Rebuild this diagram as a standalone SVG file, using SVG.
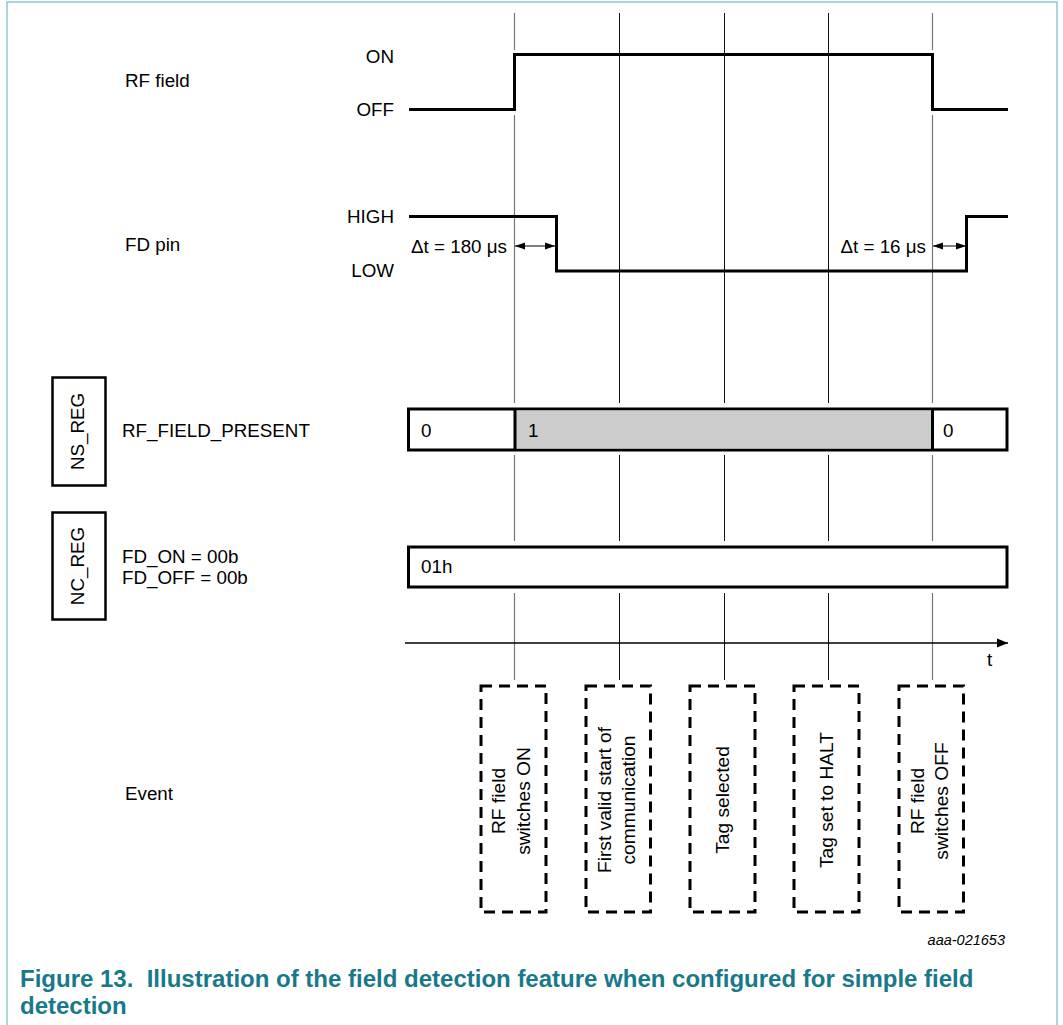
<svg xmlns="http://www.w3.org/2000/svg" width="1063" height="1025" viewBox="0 0 1063 1025">
<style>
.t{font-family:"Liberation Sans",Arial,sans-serif;font-size:18.8px;fill:#000}
.v{font-size:19.2px}
.e{text-anchor:end}
.c{text-anchor:middle}
.sig{fill:none;stroke:#000;stroke-width:3;stroke-linejoin:miter}
.g1{stroke:#777;stroke-width:1.2;fill:none}
.g2{stroke:#111;stroke-width:1;fill:none}
.box{fill:#fff;stroke:#000;stroke-width:2.5}
.ev{fill:#fff;stroke:#000;stroke-width:3;stroke-dasharray:11 7}
.cap{font-family:"Liberation Sans",Arial,sans-serif;font-weight:bold;font-size:24px;fill:#17798a}
</style>
<defs>
<marker id="ah" viewBox="0 0 10 10" refX="10" refY="5" markerWidth="10" markerHeight="10" markerUnits="userSpaceOnUse" orient="auto-start-reverse">
<path d="M0,1.5 L10,5 L0,8.5 z" fill="#000"/>
</marker>
<marker id="ax" viewBox="0 0 10 10" refX="10" refY="5" markerWidth="11" markerHeight="11" markerUnits="userSpaceOnUse" orient="auto">
<path d="M0,1 L10,5 L0,9 z" fill="#000"/>
</marker>
</defs>

<path d="M7,1025 V2 H1057 V1025" fill="none" stroke="#8ec9d3" stroke-width="1.5"/>

<g id="connectors">
<path class="g1" d="M514.5,13 V50 M514.5,115 V403 M514.5,455 V541 M514.5,593 V680"/>
<path class="g2" d="M619.5,13 V403 M619.5,455 V541 M619.5,593 V680"/>
<path class="g2" d="M724.5,13 V403 M724.5,455 V541 M724.5,593 V680"/>
<path class="g2" d="M828.5,13 V403 M828.5,455 V541 M828.5,593 V680"/>
<path class="g1" d="M932.5,13 V50 M932.5,115 V403 M932.5,455 V541 M932.5,593 V680"/>
<line x1="405" y1="643" x2="1008" y2="643" stroke="#000" stroke-width="1.5" marker-end="url(#ax)"/>
<line x1="515" y1="246" x2="555" y2="246" stroke="#000" stroke-width="1.2" marker-start="url(#ah)" marker-end="url(#ah)"/>
<line x1="933" y1="246" x2="966" y2="246" stroke="#000" stroke-width="1.2" marker-start="url(#ah)" marker-end="url(#ah)"/>
</g>

<g id="rf-field">
<text class="t" x="125" y="87">RF field</text>
<text class="t e" x="394" y="63">ON</text>
<text class="t e" x="394" y="116">OFF</text>
<path class="sig" d="M409,109.5 H514.5 V54.5 H932.5 V109.5 H1008"/>
</g>

<g id="fd-pin">
<text class="t" x="125" y="251">FD pin</text>
<text class="t e" x="394" y="223">HIGH</text>
<text class="t e" x="394" y="277">LOW</text>
<path class="sig" d="M409,216.5 H556.5 V271 H966.5 V216.5 H1008"/>
<text class="t e" x="507" y="253">Δt = 180 μs</text>
<text class="t e" x="926" y="253">Δt = 16 μs</text>
</g>

<g id="ns-reg">
<rect class="box" x="52.5" y="377.5" width="53" height="108"/>
<text class="t c" transform="translate(84,431.5) rotate(-90)">NS_REG</text>
<text class="t" x="122" y="437">RF_FIELD_PRESENT</text>
<rect x="408.5" y="409" width="598.5" height="41" fill="#fff" stroke="#000" stroke-width="3"/>
<rect x="515" y="410.5" width="417.5" height="38" fill="#cccccc"/>
<line x1="515" y1="409" x2="515" y2="450" stroke="#000" stroke-width="3"/>
<line x1="932.5" y1="409" x2="932.5" y2="450" stroke="#000" stroke-width="3"/>
<text class="t" x="421" y="437">0</text>
<text class="t" x="528" y="437">1</text>
<text class="t" x="943" y="437">0</text>
</g>

<g id="nc-reg">
<rect class="box" x="52.5" y="512.5" width="53" height="107"/>
<text class="t c" transform="translate(84,566) rotate(-90)">NC_REG</text>
<text class="t" x="122" y="563">FD_ON = 00b</text>
<text class="t" x="122" y="584">FD_OFF = 00b</text>
<rect x="408.5" y="547" width="598.5" height="40" fill="#fff" stroke="#000" stroke-width="3"/>
<text class="t" x="421" y="573">01h</text>
</g>

<text class="t" x="987" y="666">t</text>

<g id="event">
<text class="t" x="125" y="800">Event</text>
</g>
<g id="ev1">
<rect class="ev" x="481" y="686" width="65" height="226"/>
<text class="t v c" transform="translate(505,801) rotate(-90)">RF field</text>
<text class="t v c" transform="translate(530,801) rotate(-90)">switches ON</text>
</g>
<g id="ev2">
<rect class="ev" x="586" y="686" width="64.5" height="226"/>
<text class="t v c" transform="translate(611,800) rotate(-90)">First valid start of</text>
<text class="t v c" transform="translate(635,800) rotate(-90)">communication</text>
</g>
<g id="ev3">
<rect class="ev" x="690" y="686" width="65" height="226"/>
<text class="t v c" transform="translate(729,800) rotate(-90)">Tag selected</text>
</g>
<g id="ev4">
<rect class="ev" x="794" y="686" width="65" height="226"/>
<text class="t v c" transform="translate(833,800) rotate(-90)">Tag set to HALT</text>
</g>
<g id="ev5">
<rect class="ev" x="899" y="686" width="64.5" height="226"/>
<text class="t v c" transform="translate(924,801) rotate(-90)">RF field</text>
<text class="t v c" transform="translate(948,801) rotate(-90)">switches OFF</text>
</g>

<text x="1005" y="945" text-anchor="end" font-family="Liberation Sans, Arial, sans-serif" font-style="italic" font-size="14.5" fill="#000">aaa-021653</text>

<g id="caption">
<text class="cap" x="20" y="987" xml:space="preserve">Figure 13.  Illustration of the field detection feature when configured for simple field</text>
<text class="cap" x="20" y="1014">detection</text>
</g>
</svg>
